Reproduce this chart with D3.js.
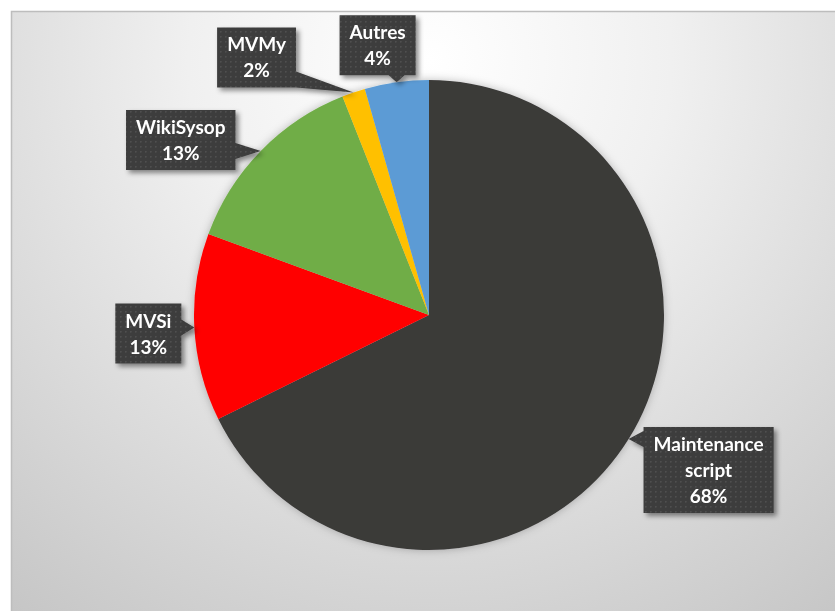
<!DOCTYPE html>
<html>
<head>
<meta charset="utf-8">
<script src="https://cdn.jsdelivr.net/npm/d3@7"></script>
<style>
  html, body { margin: 0; padding: 0; background: #fff; }
  svg { display: block; }
</style>
</head>
<body>
<div id="chart"></div>
<script>
// data
const categories = ['Maintenance script', 'MVSi', 'WikiSysop', 'MVMy', 'Autres'];
const values = [67.7, 12.9, 13.4, 1.6, 4.4];
const colors = ['#3b3a39', '#ff0000', '#70ad47', '#ffc000', '#5b9bd5'];
// label box offset from the pointer tip (box centre - tip)
const labelOffsets = [[80, 31], [-46, 6], [-80, -11], [-97, -35], [-19, -37]];

const width = 835;
const height = 611;
const cx = 429;
const cy = 315;
const radius = 235;
const lineH = 26;

const svg = d3.select('#chart')
  .append('svg')
  .attr('width', width)
  .attr('height', height);

const defs = svg.append('defs');

const bg = defs.append('radialGradient')
  .attr('id', 'bg')
  .attr('gradientUnits', 'userSpaceOnUse')
  .attr('cx', 430).attr('cy', 60).attr('r', 690);
bg.append('stop').attr('offset', '0%').attr('stop-color', '#ffffff');
bg.append('stop').attr('offset', '35%').attr('stop-color', '#f0f0f0');
bg.append('stop').attr('offset', '100%').attr('stop-color', '#c6c6c6');

const dots = defs.append('pattern')
  .attr('id', 'dots')
  .attr('patternUnits', 'userSpaceOnUse')
  .attr('width', 5).attr('height', 5);
dots.append('rect').attr('width', 5).attr('height', 5).attr('fill', '#3c3c3c');
dots.append('rect').attr('x', 1).attr('y', 1).attr('width', 1.6).attr('height', 1.6).attr('fill', '#505050');

const shadow = defs.append('filter')
  .attr('id', 'shadow')
  .attr('x', '-20%').attr('y', '-20%').attr('width', '150%').attr('height', '150%');
shadow.append('feDropShadow')
  .attr('dx', 3).attr('dy', 3).attr('stdDeviation', 2.5)
  .attr('flood-color', '#000').attr('flood-opacity', 0.45);

const glow = defs.append('filter')
  .attr('id', 'glow')
  .attr('x', '-10%').attr('y', '-10%').attr('width', '120%').attr('height', '120%');
glow.append('feDropShadow')
  .attr('dx', 0).attr('dy', 0).attr('stdDeviation', 4)
  .attr('flood-color', '#000').attr('flood-opacity', 0.25);

// chart area
svg.append('rect')
  .attr('x', 11.5).attr('y', 11.5)
  .attr('width', width).attr('height', height)
  .attr('fill', 'url(#bg)')
  .attr('stroke', '#bdbdbd')
  .attr('stroke-width', 1.5);

const pie = d3.pie().sort(null).value(d => d);
const arcs = pie(values);
const arc = d3.arc().innerRadius(0).outerRadius(radius);

const g = svg.append('g').attr('transform', `translate(${cx},${cy})`);

g.append('g')
  .attr('filter', 'url(#glow)')
  .selectAll('path')
  .data(arcs)
  .join('path')
  .attr('d', arc)
  .attr('fill', (d, i) => colors[i]);

const total = d3.sum(values);

const labels = g.append('g')
  .selectAll('g')
  .data(arcs)
  .join('g')
  .attr('filter', 'url(#shadow)');

labels.each(function (d, i) {
  const sel = d3.select(this);
  const a = (d.startAngle + d.endAngle) / 2;
  const tip = [Math.sin(a) * radius, -Math.cos(a) * radius];
  const lines = categories[i].split(' ').concat([Math.round(values[i] / total * 100) + '%']);

  const text = sel.append('text')
    .attr('text-anchor', 'middle')
    .attr('fill', '#fff')
    .style('font-family', 'Lato, "Open Sans", sans-serif')
    .style('font-weight', 'bold')
    .style('font-size', '19px');
  lines.forEach(l => text.append('tspan').text(l));

  let tw = 0;
  text.selectAll('tspan').each(function () { tw = Math.max(tw, this.getComputedTextLength()); });
  const bw = tw + 20;
  const bh = lines.length * lineH + 8;
  const bx = tip[0] + labelOffsets[i][0];
  const by = tip[1] + labelOffsets[i][1];
  const x0 = bx - bw / 2, x1 = bx + bw / 2, y0 = by - bh / 2, y1 = by + bh / 2;

  // wedge base on the box edge facing the tip
  const hw = 8;
  const clamp = (v, lo, hi) => Math.max(lo, Math.min(hi, v));
  const outX = tip[0] < x0 ? x0 - tip[0] : tip[0] > x1 ? tip[0] - x1 : 0;
  const outY = tip[1] < y0 ? y0 - tip[1] : tip[1] > y1 ? tip[1] - y1 : 0;
  let wedge;
  if (outX >= outY) {
    const ex = tip[0] < x0 ? x0 : x1;
    const c = clamp(tip[1], y0 + hw, y1 - hw);
    wedge = [[ex, c - hw], tip, [ex, c + hw]];
  } else {
    const ey = tip[1] < y0 ? y0 : y1;
    const c = clamp(tip[0], x0 + hw, x1 - hw);
    wedge = [[c - hw, ey], tip, [c + hw, ey]];
  }

  const path = d3.path();
  path.rect(x0, y0, bw, bh);
  path.moveTo(wedge[0][0], wedge[0][1]);
  path.lineTo(wedge[1][0], wedge[1][1]);
  path.lineTo(wedge[2][0], wedge[2][1]);
  path.closePath();

  sel.insert('path', 'text')
    .attr('d', path.toString())
    .attr('fill', 'url(#dots)');

  text.selectAll('tspan')
    .attr('x', bx)
    .attr('y', (l, j) => y0 + 4 + lineH * j + 20);
});
</script>
</body>
</html>
